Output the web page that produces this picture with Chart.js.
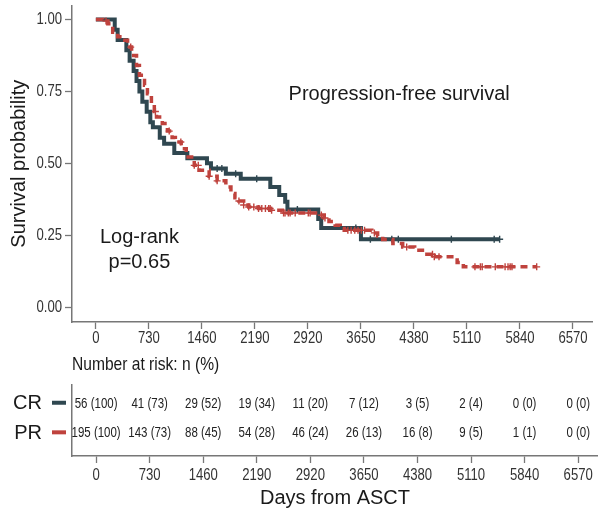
<!DOCTYPE html>
<html>
<head>
<meta charset="utf-8">
<script src="https://cdn.jsdelivr.net/npm/chart.js@4"></script>
<style>
  html, body { margin: 0; padding: 0; background: #fff; overflow: hidden; }
  #km-wrap { position: absolute; left: 0; top: 0; width: 598px; height: 378px; }
  #risk-wrap { position: absolute; left: 0; top: 378px; width: 598px; height: 139px; }
</style>
</head>
<body>
<div id="km-wrap"><canvas id="km-chart"></canvas></div>
<div id="risk-wrap"><canvas id="risk-chart"></canvas></div>
<script>
const groups = ['CR', 'PR'];
const dayTicks = [0, 730, 1460, 2190, 2920, 3650, 4380, 5110, 5840, 6570];
const survTicks = [0, 0.25, 0.5, 0.75, 1];

// CR curve: day of each drop and survival right after it
const crDays = [260, 300, 420, 465, 520, 560, 600, 640, 700, 750, 785, 880, 940, 1080, 1260, 1530, 1585, 1790, 1995, 2402, 2525, 2607, 2638, 3062, 3103, 3650];
const crSurv = [0.964, 0.929, 0.893, 0.857, 0.821, 0.786, 0.750, 0.714, 0.679, 0.643, 0.625, 0.589, 0.568, 0.536, 0.518, 0.500, 0.482, 0.464, 0.446, 0.418, 0.390, 0.366, 0.339, 0.306, 0.275, 0.236];
const crCensored = [1670, 1735, 1925, 2215, 2775, 3580, 3780, 4075, 4165, 4895, 5485, 5560];

// PR curve
const prDays = [95, 165, 232, 300, 355, 437, 492, 560, 600, 670, 710, 765, 805, 835, 915, 985, 1050, 1095, 1175, 1245, 1355, 1420, 1560, 1670, 1790, 1860, 1915, 1970, 2035, 2105, 2240, 2405, 2570, 3090, 3145, 3210, 3295, 3365, 3420, 3800, 3880, 3950, 4090, 4225, 4390, 4525, 4650, 4975, 5060];
const prSurv = [0.995, 0.985, 0.956, 0.940, 0.928, 0.904, 0.875, 0.840, 0.806, 0.771, 0.742, 0.707, 0.680, 0.661, 0.638, 0.612, 0.590, 0.574, 0.551, 0.522, 0.493, 0.476, 0.455, 0.439, 0.418, 0.395, 0.380, 0.369, 0.355, 0.348, 0.343, 0.337, 0.327, 0.320, 0.310, 0.298, 0.285, 0.273, 0.267, 0.258, 0.247, 0.235, 0.221, 0.209, 0.198, 0.184, 0.175, 0.155, 0.140];
const prCensored = [140, 480, 820, 1010, 1170, 1355, 1410, 1560, 1670, 1970, 2035, 2105, 2175, 2240, 2285, 2335, 2380, 2400, 2420, 2585, 2605, 2650, 2675, 2745, 2925, 2950, 3105, 3155, 3470, 3515, 3565, 3610, 3655, 3700, 3835, 4280, 4635, 4660, 4725, 5220, 5295, 5320, 5500, 5635, 5675, 5705, 5730, 6070];

// number at risk at each tick and its percentage
const crAtRisk = [56, 41, 29, 19, 11, 7, 3, 2, 0, 0];
const crAtRiskPct = [100, 73, 52, 34, 20, 12, 5, 4, 0, 0];
const prAtRisk = [195, 143, 88, 54, 46, 26, 16, 9, 1, 0];
const prAtRiskPct = [100, 73, 45, 28, 24, 13, 8, 5, 1, 0];

const crColor = '#2f4750';
const prColor = '#bf423d';
const axisColor = '#777';
const regular = "'Liberation Sans', Arial, Helvetica, sans-serif";
const dayMin = -328.5;
const dayMax = 6840;

const stepPoints = (days, surv, censored) => {
  const end = Math.max(...censored, days[days.length - 1]);
  const pts = [{ x: 0, y: 1 }];
  days.forEach((d, i) => pts.push({ x: d, y: surv[i] }));
  pts.push({ x: end, y: surv[surv.length - 1] });
  return pts;
};

const survAt = (days, surv, t) => {
  let s = 1;
  days.forEach((d, i) => { if (d <= t) s = surv[i]; });
  return s;
};

const censorPoints = (days, surv, censored) =>
  censored.map(c => ({ x: c, y: survAt(days, surv, c) }));

// condensed look for axis numbers: squeeze the regular face horizontally
const narrowText = (ctx, text, x, y, size, align, color) => {
  ctx.save();
  ctx.translate(x, y);
  ctx.scale(0.82, 1);
  ctx.font = `${size}px ${regular}`;
  ctx.fillStyle = color || '#333';
  ctx.textAlign = align;
  ctx.textBaseline = 'middle';
  ctx.fillText(text, 0, 0);
  ctx.restore();
};

const tickMarks = { display: true, drawOnChartArea: false, drawTicks: true, tickLength: 7, tickColor: axisColor, tickWidth: 1.3 };

const dayAxis = (height) => ({
  type: 'linear',
  display: true,
  min: dayMin,
  max: dayMax,
  afterBuildTicks: s => { s.ticks = dayTicks.map(v => ({ value: v })); },
  ticks: { display: false },
  grid: tickMarks,
  border: { display: true, color: axisColor, width: 1.5 },
  afterFit: s => { s.height = height; }
});

// tick numbers, axis caption and the free text inside the plot
const kmLabels = {
  id: 'kmLabels',
  afterDraw(chart) {
    const { ctx, scales: { x, y } } = chart;
    dayTicks.forEach(v => narrowText(ctx, String(v), x.getPixelForValue(v), x.top + 17, 16, 'center'));
    survTicks.forEach(v => narrowText(ctx, v.toFixed(2), y.right - 10, y.getPixelForValue(v), 16, 'right'));
    narrowText(ctx, 'Number at risk: n (%)', x.left, x.top + 43, 19, 'left', '#1a1a1a');

    ctx.save();
    ctx.fillStyle = '#1a1a1a';
    ctx.textAlign = 'center';
    ctx.textBaseline = 'middle';
    ctx.font = `20px ${regular}`;
    ctx.fillText('Progression-free survival', x.getPixelForValue(4176), y.getPixelForValue(0.74));
    ctx.fillText('Log-rank', x.getPixelForValue(600), y.getPixelForValue(0.243));
    ctx.fillText('p=0.65', x.getPixelForValue(600), y.getPixelForValue(0.156));
    ctx.restore();
  }
};

const kmCtx = document.getElementById('km-chart');
new Chart(kmCtx, {
  type: 'line',
  data: {
    datasets: [
      {
        label: 'PR',
        data: stepPoints(prDays, prSurv, prCensored),
        borderColor: prColor,
        borderWidth: 3.5,
        borderDash: [7, 5],
        stepped: true,
        pointRadius: 0,
        fill: false,
        order: 1
      },
      {
        label: 'PR censored',
        type: 'scatter',
        data: censorPoints(prDays, prSurv, prCensored),
        pointStyle: 'cross',
        pointRadius: 3.5,
        borderColor: prColor,
        borderWidth: 1.4,
        order: 1
      },
      {
        label: 'CR',
        data: stepPoints(crDays, crSurv, crCensored),
        borderColor: crColor,
        borderWidth: 4,
        stepped: true,
        pointRadius: 0,
        fill: false,
        order: 2
      },
      {
        label: 'CR censored',
        type: 'scatter',
        data: censorPoints(crDays, crSurv, crCensored),
        pointStyle: 'cross',
        pointRadius: 3.5,
        borderColor: crColor,
        borderWidth: 1.4,
        order: 2
      }
    ]
  },
  options: {
    responsive: true,
    maintainAspectRatio: false,
    animation: false,
    devicePixelRatio: 1,
    layout: { padding: { top: 5, left: 0, right: 0, bottom: 0 } },
    plugins: { legend: { display: false }, tooltip: { enabled: false } },
    scales: {
      x: dayAxis(56),
      y: {
        type: 'linear',
        min: -0.0517,
        max: 1.049,
        afterBuildTicks: s => { s.ticks = survTicks.map(v => ({ value: v })); },
        ticks: { display: false },
        grid: tickMarks,
        border: { display: true, color: axisColor, width: 1.5 },
        title: {
          display: true, text: 'Survival probability',
          font: { family: regular, size: 20 }, color: '#1a1a1a', padding: { top: 7, bottom: 0 }
        },
        afterFit: s => { s.width = 72; }
      }
    }
  },
  plugins: [kmLabels]
});

// risk table rows: group label with key line, then counts under each tick
const riskTable = {
  id: 'riskTable',
  afterDraw(chart) {
    const { ctx, scales: { x, y } } = chart;
    const rows = [
      { n: crAtRisk, pct: crAtRiskPct, color: crColor },
      { n: prAtRisk, pct: prAtRiskPct, color: prColor }
    ];
    rows.forEach((row, r) => {
      const py = y.getPixelForValue(groups.length - 1 - r);
      ctx.save();
      ctx.fillStyle = '#1a1a1a';
      ctx.textBaseline = 'middle';
      ctx.textAlign = 'right';
      ctx.font = `20px ${regular}`;
      ctx.fillText(groups[r], 42, py + 1);
      ctx.strokeStyle = row.color;
      ctx.lineWidth = 4;
      ctx.beginPath();
      ctx.moveTo(52, py);
      ctx.lineTo(66, py);
      ctx.stroke();
      ctx.restore();
      row.n.forEach((n, i) => {
        narrowText(ctx, `${n} (${row.pct[i]})`, x.getPixelForValue(dayTicks[i]), py + 1, 14, 'center', '#222');
      });
    });
    dayTicks.forEach(v => narrowText(ctx, String(v), x.getPixelForValue(v), x.top + 20, 16, 'center'));
  }
};

const riskCtx = document.getElementById('risk-chart');
new Chart(riskCtx, {
  type: 'line',
  data: { datasets: [] },
  options: {
    responsive: true,
    maintainAspectRatio: false,
    animation: false,
    devicePixelRatio: 1,
    layout: { padding: { top: 7, left: 0, right: 0, bottom: 0 } },
    plugins: { legend: { display: false }, tooltip: { enabled: false } },
    scales: {
      x: Object.assign(dayAxis(61), {
        title: {
          display: true, text: 'Days from ASCT', align: 'center',
          font: { family: regular, size: 20 }, color: '#1a1a1a', padding: { top: 4, bottom: 7 }
        }
      }),
      y: {
        type: 'linear',
        display: true,
        min: -0.8,
        max: 1.6,
        ticks: { display: false },
        grid: { display: false, drawTicks: false },
        border: { display: true, color: axisColor, width: 1.5 },
        afterFit: s => { s.width = 72; }
      }
    }
  },
  plugins: [riskTable]
});
</script>
</body>
</html>
